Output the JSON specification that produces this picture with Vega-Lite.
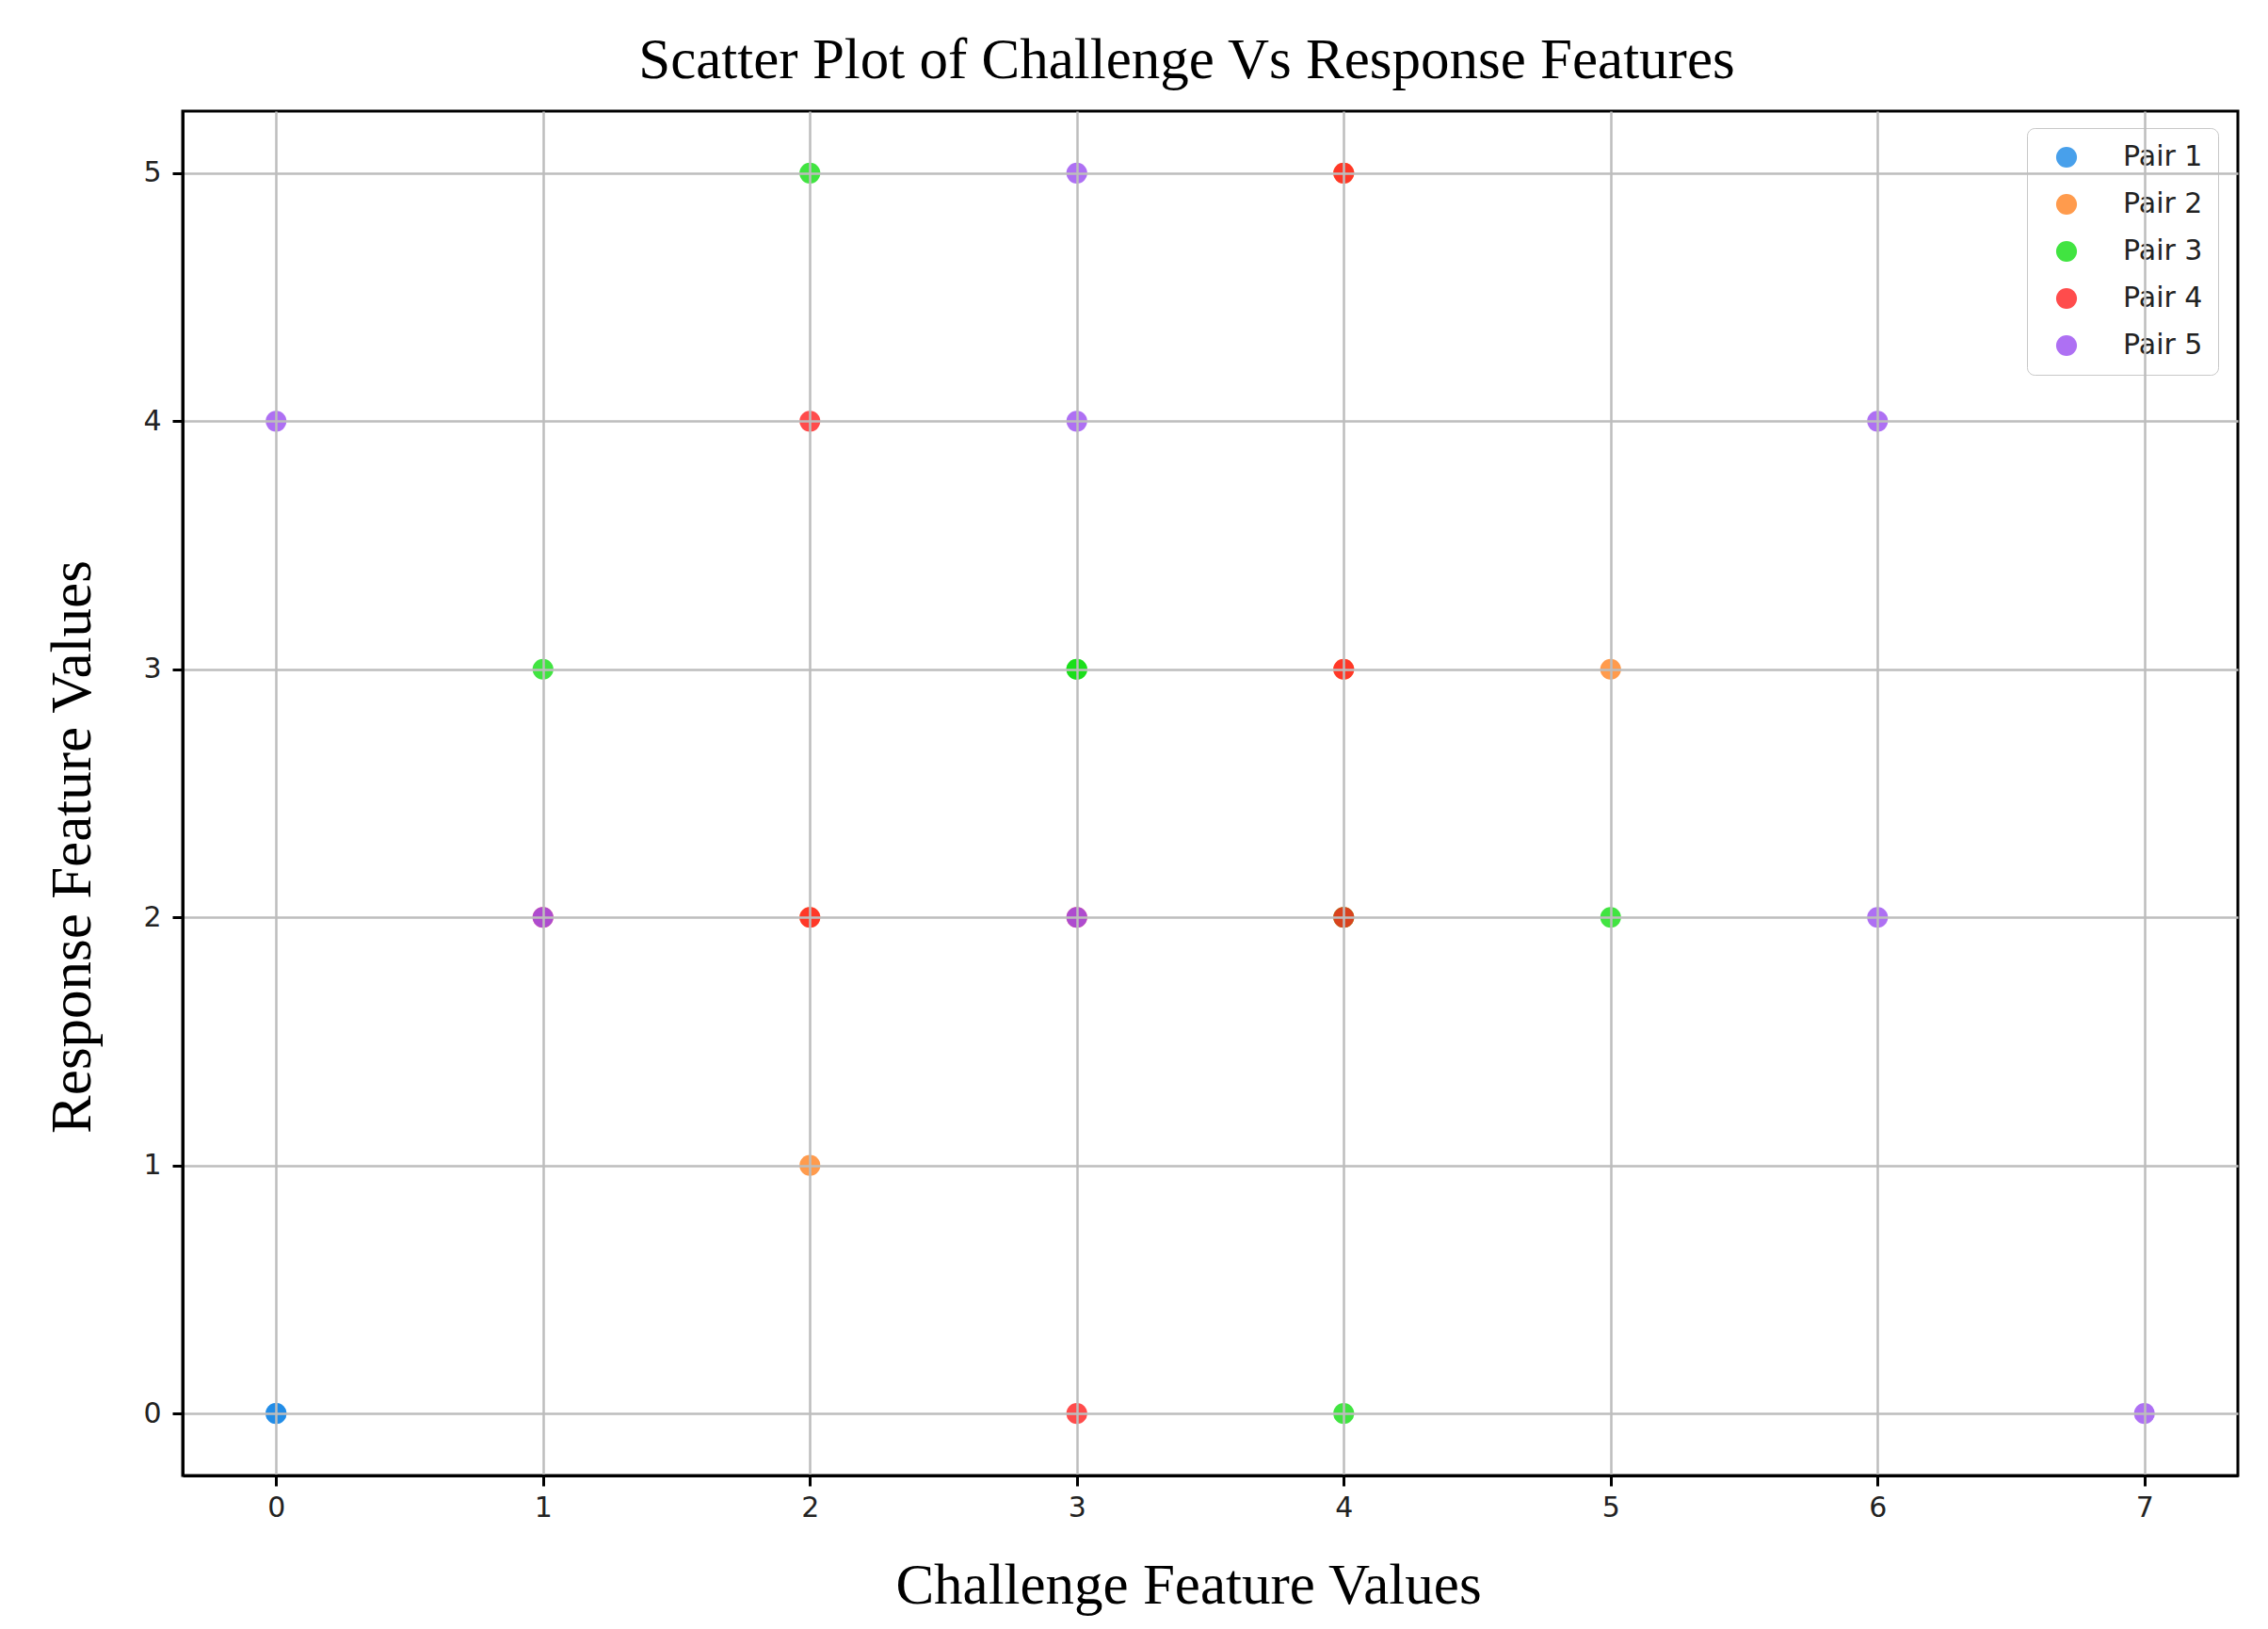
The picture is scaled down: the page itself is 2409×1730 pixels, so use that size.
{
  "$schema": "https://vega.github.io/schema/vega-lite/v6.json",
  "autosize": {"type": "none"},
  "width": 2183,
  "height": 1449,
  "padding": {"left": 194, "top": 118, "right": 32, "bottom": 163},
  "background": "white",
  "config": {
    "view": {"stroke": "black", "strokeWidth": 3},
    "font": "DejaVu Sans"
  },
  "title": {
    "text": "Scatter Plot of Challenge Vs Response Features",
    "font": "Liberation Serif",
    "fontSize": 61,
    "fontWeight": "normal",
    "color": "black",
    "anchor": "middle",
    "baseline": "alphabetic",
    "offset": -26,
    "dx": -25
  },
  "data": {
    "values": [
      {"pair": "Pair 1", "x": 0, "y": 0},
      {"pair": "Pair 1", "x": 0, "y": 0},
      {"pair": "Pair 2", "x": 2, "y": 1},
      {"pair": "Pair 2", "x": 5, "y": 3},
      {"pair": "Pair 2", "x": 4, "y": 5},
      {"pair": "Pair 2", "x": 4, "y": 3},
      {"pair": "Pair 2", "x": 4, "y": 2},
      {"pair": "Pair 2", "x": 2, "y": 2},
      {"pair": "Pair 3", "x": 1, "y": 3},
      {"pair": "Pair 3", "x": 2, "y": 5},
      {"pair": "Pair 3", "x": 3, "y": 3},
      {"pair": "Pair 3", "x": 3, "y": 3},
      {"pair": "Pair 3", "x": 4, "y": 0},
      {"pair": "Pair 3", "x": 5, "y": 2},
      {"pair": "Pair 3", "x": 4, "y": 2},
      {"pair": "Pair 4", "x": 2, "y": 4},
      {"pair": "Pair 4", "x": 2, "y": 2},
      {"pair": "Pair 4", "x": 3, "y": 0},
      {"pair": "Pair 4", "x": 4, "y": 5},
      {"pair": "Pair 4", "x": 4, "y": 3},
      {"pair": "Pair 4", "x": 4, "y": 2},
      {"pair": "Pair 4", "x": 1, "y": 2},
      {"pair": "Pair 4", "x": 3, "y": 2},
      {"pair": "Pair 5", "x": 0, "y": 4},
      {"pair": "Pair 5", "x": 3, "y": 5},
      {"pair": "Pair 5", "x": 3, "y": 4},
      {"pair": "Pair 5", "x": 6, "y": 4},
      {"pair": "Pair 5", "x": 6, "y": 2},
      {"pair": "Pair 5", "x": 7, "y": 0},
      {"pair": "Pair 5", "x": 1, "y": 2},
      {"pair": "Pair 5", "x": 3, "y": 2}
    ]
  },
  "mark": {"type": "circle", "size": 490, "opacity": 0.8},
  "encoding": {
    "x": {
      "field": "x",
      "type": "quantitative",
      "scale": {"domain": [-0.35, 7.35], "nice": false, "zero": false},
      "axis": {
        "title": "Challenge Feature Values",
        "titleFont": "Liberation Serif",
        "titleFontSize": 61,
        "titleFontWeight": "normal",
        "titleColor": "black",
        "titleX": 1068,
        "titleY": 135,
        "titleBaseline": "alphabetic",
        "values": [0, 1, 2, 3, 4, 5, 6, 7],
        "labelFontSize": 30,
        "labelColor": "#222222",
        "labelPadding": 8,
        "tickColor": "black",
        "tickWidth": 3,
        "tickSize": 11,
        "domainColor": "black",
        "domainWidth": 3,
        "gridColor": "#bdbdbd",
        "gridWidth": 2.5,
        "gridOpacity": 1,
        "zindex": 1
      }
    },
    "y": {
      "field": "y",
      "type": "quantitative",
      "scale": {"domain": [-0.25, 5.25], "nice": false, "zero": false},
      "axis": {
        "title": "Response Feature Values",
        "titleFont": "Liberation Serif",
        "titleFontSize": 61,
        "titleFontWeight": "normal",
        "titleColor": "black",
        "titleAngle": -90,
        "titleX": -99,
        "titleY": 781,
        "titleAlign": "center",
        "titleBaseline": "alphabetic",
        "values": [0, 1, 2, 3, 4, 5],
        "labelFontSize": 30,
        "labelColor": "#222222",
        "labelPadding": 12,
        "tickColor": "black",
        "tickWidth": 3,
        "tickSize": 11,
        "domainColor": "black",
        "domainWidth": 3,
        "gridColor": "#bdbdbd",
        "gridWidth": 2.5,
        "gridOpacity": 1,
        "zindex": 1
      }
    },
    "color": {
      "field": "pair",
      "type": "nominal",
      "scale": {
        "domain": ["Pair 1", "Pair 2", "Pair 3", "Pair 4", "Pair 5"],
        "range": ["#1a88e6", "#ff8221", "#12dd12", "#ff1f1f", "#9a4cf0"]
      },
      "legend": {
        "title": null,
        "orient": "none",
        "legendX": 1959,
        "legendY": 18,
        "symbolType": "circle",
        "symbolSize": 490,
        "symbolOpacity": 0.8,
        "symbolStrokeWidth": 0,
        "symbolOffset": 11,
        "labelFontSize": 30,
        "labelColor": "#222222",
        "labelOffset": 45,
        "rowPadding": 20,
        "padding": 16,
        "fillColor": "rgba(255,255,255,0.8)",
        "strokeColor": "#c8c8c8",
        "cornerRadius": 8,
        "labelLimit": 400
      }
    },
    "order": {"field": "pair", "sort": "ascending"}
  }
}
